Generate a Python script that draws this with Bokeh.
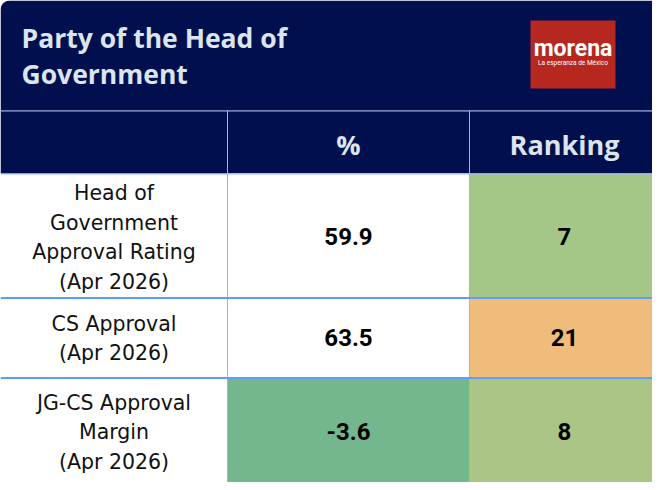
from bokeh.plotting import figure
from bokeh.models import Range1d, BoxAnnotation
from bokeh.core.properties import value
from bokeh.embed import file_html
from bokeh.resources import INLINE

# ---- data ----
title_text = "Party of the Head of\nGovernment"
col_headers = ["", "%", "Ranking"]
row_labels = ["Head of\nGovernment\nApproval Rating\n(Apr 2026)",
              "CS Approval\n(Apr 2026)",
              "JG-CS Approval\nMargin\n(Apr 2026)"]
pct_values = [59.9, 63.5, -3.6]
rankings = [7, 21, 8]
pct_colors = ["#ffffff", "#ffffff", "#74b78e"]
rank_colors = ["#a4c687", "#f0bc7b", "#abc586"]

# ---- layout ----
NAVY = "#020f4f"
W, H = 652, 482
X0, Y0 = 8, 8
col_edges = [8, 235, 477, 668]
title_bottom = 118
header_bottom = 181
row_edges = [181, 305, 385, 500]

p = figure(width=W, height=H, output_backend="svg", toolbar_location=None,
           x_range=Range1d(X0, X0 + W), y_range=Range1d(Y0 + H, Y0),
           min_border=0, outline_line_color=None, background_fill_color="white")
p.axis.visible = False
p.grid.visible = False

# title block with rounded top-left corner
p.add_layout(BoxAnnotation(left=col_edges[0], right=col_edges[-1], top=Y0, bottom=title_bottom,
                           fill_color=NAVY, fill_alpha=1, line_color=None, level="underlay",
                           border_radius=dict(top_left=9, top_right=0, bottom_left=0, bottom_right=0)))
# header row
p.quad(left=col_edges[0], right=col_edges[-1], top=title_bottom, bottom=header_bottom,
       fill_color=NAVY, line_color=None)

# title
p.text(x=[29], y=[63], text=[title_text], text_font=value("Open Sans"), text_font_style="bold",
       text_font_size="26.5px", text_color="#dbe5ee", text_baseline="middle", text_align="left",
       text_line_height=1.0)

# logo
p.quad(left=538, right=623, top=28, bottom=96, fill_color="#b5271f", line_color=None)
p.text(x=[580.5], y=[56], text=["morena"], text_font=value("Roboto"), text_font_style="bold",
       text_font_size="23px", text_color="white", text_baseline="middle", text_align="center")
p.text(x=[580.5], y=[70], text=["La esperanza de México"], text_font=value("Roboto"),
       text_font_size="6.5px", text_color="white", text_baseline="middle", text_align="center")

# column headers
hdr_x = [(col_edges[i] + col_edges[i + 1]) / 2 for i in range(3)]
hdr_x[2] = 572
p.text(x=hdr_x[1:], y=[152, 152], text=col_headers[1:], text_font=value("Open Sans"),
       text_font_style="bold", text_font_size="27px", text_color="#dbe5ee",
       text_baseline="middle", text_align="center")

# body cells
tops = row_edges[:-1]
bottoms = row_edges[1:]
p.quad(left=[col_edges[1]] * 3, right=[col_edges[2]] * 3, top=tops, bottom=bottoms,
       fill_color=pct_colors, line_color=None)
p.quad(left=[col_edges[2]] * 3, right=[col_edges[3]] * 3, top=tops, bottom=bottoms,
       fill_color=rank_colors, line_color=None)

centers = [245, 346, 440]
p.text(x=[hdr_x[0]] * 3, y=centers, text=row_labels, text_font=value("DejaVu Sans"),
       text_font_size="20.5px", text_color="#111111", text_baseline="middle",
       text_align="center", text_line_height=1.235)
p.text(x=[hdr_x[1]] * 3, y=[c - 1 for c in centers], text=[f"{v:.1f}" for v in pct_values],
       text_font=value("Roboto"), text_font_style="bold", text_font_size="24px",
       text_color="#000000", text_baseline="middle", text_align="center")
p.text(x=[hdr_x[2]] * 3, y=[c - 1 for c in centers], text=[str(r) for r in rankings],
       text_font=value("Roboto"), text_font_style="bold", text_font_size="24px",
       text_color="#000000", text_baseline="middle", text_align="center")

# grid lines
p.segment(x0=[col_edges[0], col_edges[0]], x1=[col_edges[-1]] * 2,
          y0=[title_bottom + 0.5, header_bottom + 0.5], y1=[title_bottom + 0.5, header_bottom + 0.5],
          line_color="#9fb7f3", line_width=1)
p.segment(x0=[col_edges[1], col_edges[2]], x1=[col_edges[1], col_edges[2]],
          y0=[title_bottom, title_bottom], y1=[500, 500], line_color="#9ab4f2", line_width=1)
p.segment(x0=[col_edges[0]] * 2, x1=[col_edges[-1]] * 2, y0=[305.5, 385.5], y1=[305.5, 385.5],
          line_color="#5f9ef0", line_width=2)

open("out.html", "w").write(file_html(p, INLINE))
